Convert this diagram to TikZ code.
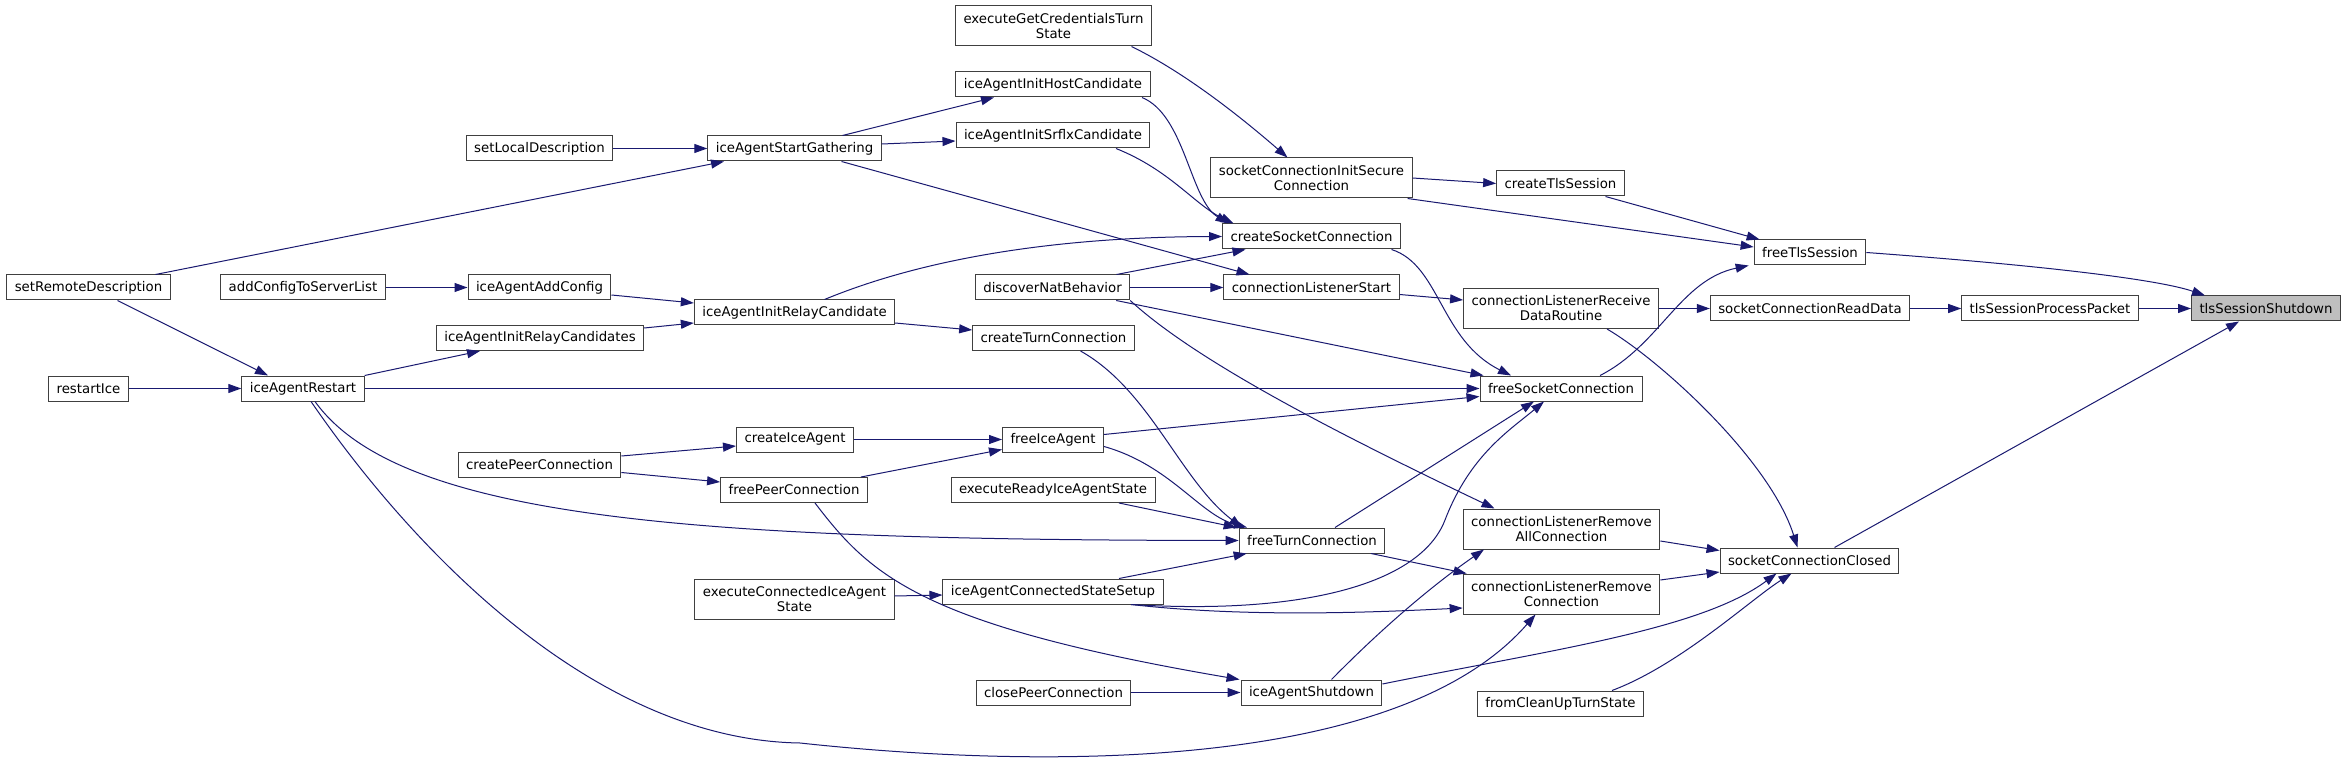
\documentclass[tikz,border=0pt]{standalone}
\usepackage{fontspec}
\setmainfont{DejaVu Sans}
\usetikzlibrary{arrows.meta}
\definecolor{CallBlue}{RGB}{25,25,112}
\definecolor{FocusGray}{RGB}{191,191,191}
\definecolor{BoxLine}{RGB}{64,64,64}
\tikzset{
  fn/.style={rectangle,draw=BoxLine,fill=white,line width=1pt,inner xsep=8pt,inner ysep=2pt,
    minimum height=25pt,align=center,font=\fontsize{13.3}{15}\selectfont},
  fn2/.style={fn,minimum height=40pt},
  call/.style={draw=CallBlue,line width=1pt,-{Triangle[length=13pt,width=9pt]}},
}
\tikzset{focus/.style={fn,fill=FocusGray}}

\begin{document}
\begin{tikzpicture}[x=1pt,y=-1pt]
\useasboundingbox (0,0) rectangle (2343,759);
\fill[white] (0,0) rectangle (2343,759);
\node[fn] (srd) at (88.5,287.5) {setRemoteDescription};
\node[fn] (ri) at (88.5,388.5) {restartIce};
\node[fn] (actsl) at (303,287.5) {addConfigToServerList};
\node[fn] (iar) at (303,388.5) {iceAgentRestart};
\node[fn] (sld) at (539.5,148.5) {setLocalDescription};
\node[fn] (iaac) at (539.5,287.5) {iceAgentAddConfig};
\node[fn] (iarcs) at (540,338) {iceAgentInitRelayCandidates};
\node[fn] (cpc) at (539.5,464.5) {createPeerConnection};
\node[fn] (iasg) at (794.5,148.5) {iceAgentStartGathering};
\node[fn] (iarc) at (794.5,312.5) {iceAgentInitRelayCandidate};
\node[fn] (cia) at (795,439.5) {createIceAgent};
\node[fn] (fpc) at (794,490) {freePeerConnection};
\node[fn2] (ecias) at (794.5,599) {executeConnectedIceAgent\\State};
\node[fn2] (egcts) at (1053.5,26) {executeGetCredentialsTurn\\State};
\node[fn] (iaihc) at (1053,84.5) {iceAgentInitHostCandidate};
\node[fn] (iaisc) at (1053,135.5) {iceAgentInitSrflxCandidate};
\node[fn] (dnb) at (1052.5,287.5) {discoverNatBehavior};
\node[fn] (ctc) at (1053.5,338) {createTurnConnection};
\node[fn] (fia) at (1053,439.5) {freeIceAgent};
\node[fn] (eria) at (1053,490) {executeReadyIceAgentState};
\node[fn] (iacss) at (1053,591.5) {iceAgentConnectedStateSetup};
\node[fn] (cpcl) at (1053.5,692.5) {closePeerConnection};
\node[fn2] (scis) at (1311.5,178) {socketConnectionInitSecure\\Connection};
\node[fn] (csc) at (1311.5,236.5) {createSocketConnection};
\node[fn] (cls) at (1311.5,287.5) {connectionListenerStart};
\node[fn] (ftc) at (1312,540.5) {freeTurnConnection};
\node[fn] (ias) at (1311.5,692.5) {iceAgentShutdown};
\node[fn] (cts) at (1560.5,183.5) {createTlsSession};
\node[fn2] (clrdr) at (1561,308.5) {connectionListenerReceive\\DataRoutine};
\node[fn] (fsc) at (1561,388.5) {freeSocketConnection};
\node[fn2] (clrac) at (1561.5,529) {connectionListenerRemove\\AllConnection};
\node[fn2] (clrc) at (1561.5,594) {connectionListenerRemove\\Connection};
\node[fn] (fcuts) at (1560.5,703.5) {fromCleanUpTurnState};
\node[fn] (fts) at (1810,252.5) {freeTlsSession};
\node[fn] (scrd) at (1810,308.5) {socketConnectionReadData};
\node[fn] (scc) at (1809.5,560.5) {socketConnectionClosed};
\node[fn] (tspp) at (2050,308.5) {tlsSessionProcessPacket};
\node[focus] (tss) at (2266,308.5) {tlsSessionShutdown};

\draw[call] (fts.east) .. controls (2050,266) and (2160,280) .. ([xshift=14]tss.north west);
\draw[call] (tspp.east) -- (tss.west);
\draw[call] ([xshift=25]scc.north) -- ([xshift=-27]tss.south);
\draw[call] (scrd.east) -- (tspp.west);
\draw[call] (clrdr.east) -- (scrd.west);
\draw[call] ([xshift=45]cts.south) -- ([xshift=6]fts.north west);
\draw[call] ([xshift=-5]scis.south east) -- ([yshift=5.5]fts.west);
\draw[call] ([xshift=39]fsc.north) .. controls (1660,345) and (1680,280) .. ([xshift=-5]fts.south west);
\draw[call] (scis.east) -- (cts.west);
\draw[call] ([xshift=78]egcts.south) .. controls (1190,75) and (1250,125) .. ([xshift=-24]scis.north);
\draw[call] ([xshift=89]iaihc.south) .. controls (1185,115) and (1190,200) .. ([xshift=-83]csc.north);
\draw[call] ([xshift=63]iaisc.south) .. controls (1170,170) and (1195,205) .. ([xshift=-78]csc.north);
\draw[call] ([xshift=30]iarc.north) .. controls (920,260) and (1050,237) .. (csc.west);
\draw[call] ([xshift=64]dnb.north) -- ([xshift=-66]csc.south);
\draw[call] ([xshift=80]csc.south) .. controls (1440,265) and (1440,340) .. ([xshift=-50]fsc.north);
\draw[call] (dnb.east) -- (cls.west);
\draw[call] ([xshift=47]iasg.south) -- ([xshift=-62]cls.north);
\draw[call] ([yshift=-7]cls.east) -- ([yshift=8.5]clrdr.west);
\draw[call] ([xshift=-14]dnb.south east) -- ([xshift=4]fsc.north west);
\draw[call] (dnb.south east) .. controls (1195,360) and (1330,430) .. ([xshift=-67]clrac.north);
\draw[call] (iar.east) -- (fsc.west);
\draw[call] ([yshift=5]fia.east) -- ([yshift=-8]fsc.west);
\draw[call] ([xshift=23]ftc.north) -- ([xshift=-27]fsc.south);
\draw[call] ([xshift=78]iacss.south) .. controls (1300,615) and (1420,585) .. (1445,520)
  .. controls (1470,455) and (1510,430) .. ([xshift=-17]fsc.south);
\draw[call] ([xshift=46]clrdr.south) .. controls (1660,360) and (1770,460) .. ([xshift=-12]scc.north);
\draw[call] ([yshift=-12]clrac.east) -- ([yshift=10]scc.west);
\draw[call] ([yshift=14]clrc.east) -- ([yshift=-11.5]scc.west);
\draw[call] ([yshift=8.5]ias.east) .. controls (1550,650) and (1700,630) .. ([xshift=-33]scc.south);
\draw[call] ([xshift=51.5]fcuts.north) .. controls (1680,665) and (1750,600) .. ([xshift=-18]scc.south);
\draw[call] ([xshift=59]ftc.south) -- ([xshift=4]clrc.north west);
\draw[call] ([xshift=78]iacss.south) .. controls (1250,618) and (1380,612) .. ([yshift=-14]clrc.west);
\draw[call] ([xshift=20]ias.north) .. controls (1390,620) and (1440,580) .. ([xshift=-77.5]clrac.south);
\draw[call] ([xshift=8]iar.south) .. controls (420,560) and (600,740) .. (800,743)
  .. controls (1050,770) and (1400,770) .. ([xshift=-26]clrc.south);
\draw[call] ([xshift=27]ctc.south) .. controls (1150,390) and (1180,480) .. ([xshift=-70]ftc.north);
\draw[call] ([yshift=-7]fia.east) .. controls (1170,465) and (1200,515) .. ([xshift=-65]ftc.north);
\draw[call] ([xshift=66]eria.south) -- ([xshift=-2]ftc.north west);
\draw[call] ([xshift=12]iar.south) .. controls (400,520) and (700,540) .. (ftc.west);
\draw[call] ([xshift=66]iacss.north) -- ([xshift=8]ftc.south west);
\draw[call] ([yshift=3]ecias.east) -- ([yshift=-3.5]iacss.west);
\draw[call] ([xshift=21]fpc.south) .. controls (870,575) and (920,625) .. ([xshift=-1]ias.north west);
\draw[call] (cpcl.east) -- (ias.west);
\draw[call] (cia.east) -- (fia.west);
\draw[call] ([xshift=67]fpc.north) -- ([yshift=-10]fia.west);
\draw[call] ([yshift=8.5]cpc.east) -- ([yshift=-6.5]cia.west);
\draw[call] ([yshift=-8]cpc.east) -- ([yshift=8]fpc.west);
\draw[call] (ri.east) -- (iar.west);
\draw[call] ([xshift=29]srd.south) -- ([xshift=-35]iar.north);
\draw[call] ([xshift=67]srd.north) -- ([xshift=-70.5]iasg.south);
\draw[call] (sld.east) -- (iasg.west);
\draw[call] ([xshift=48]iasg.north) -- ([xshift=-59]iaihc.south);
\draw[call] ([yshift=4.5]iasg.east) -- ([yshift=-5.5]iaisc.west);
\draw[call] ([yshift=-7.5]iaac.east) -- ([yshift=9.5]iarc.west);
\draw[call] ([yshift=10]iarcs.east) -- ([yshift=-10.5]iarc.west);
\draw[call] (iar.north east) -- ([xshift=-60]iarcs.south);
\draw[call] (actsl.east) -- (iaac.west);
\draw[call] ([yshift=-10.5]iarc.east) -- ([yshift=8]ctc.west);
\end{tikzpicture}
\end{document}
